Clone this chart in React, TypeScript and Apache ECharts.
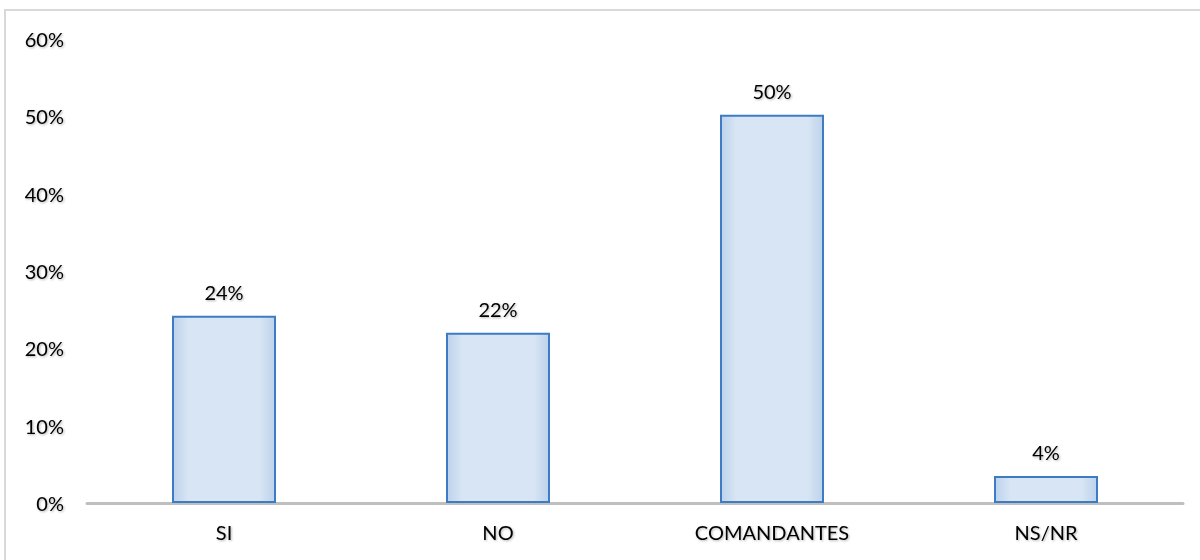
import React, { useEffect, useRef } from "react";
import * as echarts from "echarts";

const categories = ["SI", "NO", "COMANDANTES", "NS/NR"];
const values = [24.2, 22.0, 50.2, 3.5];
const labels = ["24%", "22%", "50%", "4%"];
const yTicks = [0, 10, 20, 30, 40, 50, 60];

export default function App() {
  const ref = useRef<HTMLDivElement>(null);
  useEffect(() => {
    document.body.style.margin = "0";
    const chart = echarts.init(ref.current!, null, { renderer: "svg" });
    const font = "Lato, 'Open Sans', sans-serif";
    const shadow = {
      textShadowColor: "rgba(0,0,0,0.3)",
      textShadowBlur: 2,
      textShadowOffsetX: 1,
      textShadowOffsetY: 1,
    };
    chart.setOption({
      animation: false,
      backgroundColor: "#ffffff",
      graphic: [
        {
          type: "rect",
          shape: { x: 5, y: 10, width: 1210, height: 570 },
          style: { fill: "none", stroke: "#d9d9d9", lineWidth: 2 },
          silent: true,
        },
      ],
      grid: { left: 87, right: 17, top: 39, bottom: 57 },
      xAxis: {
        type: "category",
        data: categories,
        axisLine: { lineStyle: { color: "#bfbfbf", width: 3 } },
        axisTick: { show: false },
        axisLabel: {
          color: "#000",
          fontSize: 20,
          fontFamily: font,
          margin: 19,
          ...shadow,
        },
      },
      yAxis: {
        type: "value",
        min: yTicks[0],
        max: yTicks[yTicks.length - 1],
        interval: 10,
        splitLine: { show: false },
        axisLine: { show: false },
        axisTick: { show: false },
        axisLabel: {
          formatter: (v: number) => v + "%",
          color: "#000",
          fontSize: 20,
          fontFamily: font,
          margin: 23,
          ...shadow,
        },
      },
      series: [
        {
          type: "bar",
          data: values,
          barWidth: 104,
          itemStyle: {
            color: new echarts.graphic.LinearGradient(0, 0, 1, 0, [
              { offset: 0, color: "#bcd2ec" },
              { offset: 0.15, color: "#d8e5f4" },
              { offset: 0.85, color: "#d8e5f4" },
              { offset: 1, color: "#bcd2ec" },
            ]),
            borderColor: "#3d7cc2",
            borderWidth: 2,
          },
          label: {
            show: true,
            position: "top",
            distance: 14,
            formatter: (p: any) => labels[p.dataIndex],
            color: "#000",
            fontSize: 20,
            fontFamily: font,
            ...shadow,
          },
        },
      ],
    });
    return () => chart.dispose();
  }, []);
  return (
    <div
      ref={ref}
      style={{ position: "absolute", left: 0, top: 0, width: 1200, height: 560 }}
    />
  );
}
